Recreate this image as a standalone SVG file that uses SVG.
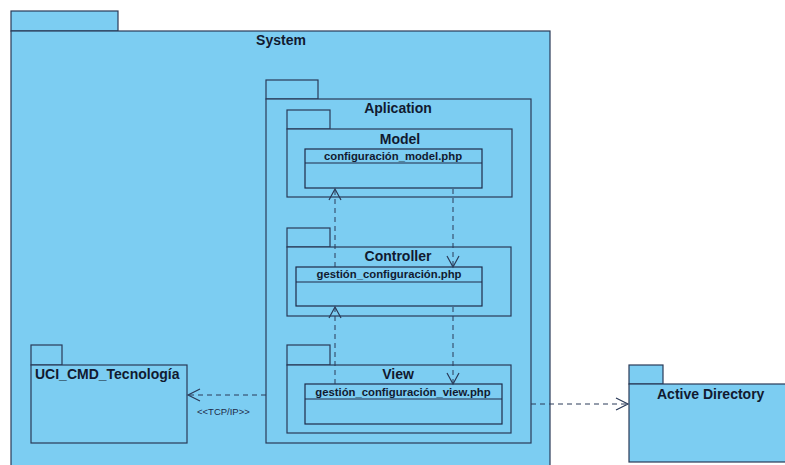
<svg xmlns="http://www.w3.org/2000/svg" width="785" height="465" viewBox="0 0 785 465">
  <style>
    .pkg { fill: #7ccdf2; stroke: #2a3a58; stroke-width: 1.2; }
    .cls { fill: #7ccdf2; stroke: #1e2a48; stroke-width: 1.2; }
    .pkgname { font-family: "Liberation Sans", Arial, sans-serif; font-weight: bold; font-size: 14px; fill: #111a30; }
    .clsname { font-family: "Liberation Sans", Arial, sans-serif; font-weight: bold; font-size: 11.3px; fill: #111a30; }
    .lbl { font-family: "Liberation Sans", Arial, sans-serif; font-size: 9.5px; fill: #1e2a48; }
    .dep { fill: none; stroke: #2a3a58; stroke-width: 1; stroke-dasharray: 5 4; }
    .head { fill: none; stroke: #2a3a58; stroke-width: 1.2; }
  </style>
  <rect x="0" y="0" width="785" height="465" fill="#ffffff"/>

  <!-- System package -->
  <g id="system">
    <rect class="pkg" x="11" y="11" width="107" height="20"/>
    <rect class="pkg" x="11" y="31" width="539" height="440"/>
    <text class="pkgname" x="281" y="45" text-anchor="middle" font-size="13">System</text>
  </g>

  <!-- Aplication package -->
  <g id="aplication">
    <rect class="pkg" x="266" y="80" width="52" height="19"/>
    <rect class="pkg" x="266" y="99" width="265" height="344"/>
    <text class="pkgname" x="398" y="113" text-anchor="middle">Aplication</text>
  </g>

  <!-- Model package -->
  <g id="model">
    <rect class="pkg" x="287" y="110" width="43" height="19"/>
    <rect class="pkg" x="287" y="129" width="225" height="68"/>
    <text class="pkgname" x="400" y="144" text-anchor="middle">Model</text>
    <g id="configuracion_model">
      <rect class="cls" x="305" y="149" width="177" height="39"/>
      <line class="cls" x1="305" y1="163" x2="482" y2="163"/>
      <text class="clsname" x="393" y="160" text-anchor="middle">configuración_model.php</text>
    </g>
  </g>

  <!-- Controller package -->
  <g id="controller">
    <rect class="pkg" x="287" y="228" width="43" height="19"/>
    <rect class="pkg" x="287" y="247" width="224" height="69"/>
    <text class="pkgname" x="398" y="261" text-anchor="middle">Controller</text>
    <g id="gestion_configuracion">
      <rect class="cls" x="296" y="267" width="186" height="39"/>
      <line class="cls" x1="296" y1="282" x2="482" y2="282"/>
      <text class="clsname" x="389" y="278" text-anchor="middle">gestión_configuración.php</text>
    </g>
  </g>

  <!-- View package -->
  <g id="view">
    <rect class="pkg" x="287" y="345" width="43" height="20"/>
    <rect class="pkg" x="287" y="365" width="224" height="68"/>
    <text class="pkgname" x="398" y="379" text-anchor="middle">View</text>
    <g id="gestion_configuracion_view">
      <rect class="cls" x="305" y="384" width="197" height="40"/>
      <line class="cls" x1="305" y1="399" x2="502" y2="399"/>
      <text class="clsname" x="403" y="396" text-anchor="middle">gestión_configuración_view.php</text>
    </g>
  </g>

  <!-- UCI_CMD_Tecnología package -->
  <g id="uci_cmd_tecnologia">
    <rect class="pkg" x="31" y="345" width="31" height="20"/>
    <rect class="pkg" x="31" y="365" width="156" height="78"/>
    <text class="pkgname" x="35" y="379">UCI_CMD_Tecnología</text>
  </g>

  <!-- Active Directory package -->
  <g id="active_directory">
    <rect class="pkg" x="629" y="365" width="34" height="19"/>
    <rect class="pkg" x="629" y="384" width="170" height="78"/>
    <text class="pkgname" x="657" y="399">Active Directory</text>
  </g>

  <!-- Dependencies -->
  <g id="connectors">
    <!-- Controller -> Model -->
    <line class="dep" x1="335" y1="267" x2="335" y2="190"/>
    <polyline class="head" points="329,200 335,189 341,200"/>
    <!-- Model -> Controller -->
    <line class="dep" x1="453" y1="189" x2="453" y2="266"/>
    <polyline class="head" points="447,256 453,267 459,256"/>
    <!-- View -> Controller -->
    <line class="dep" x1="335" y1="384" x2="335" y2="308"/>
    <polyline class="head" points="329,318 335,307 341,318"/>
    <!-- Controller -> View -->
    <line class="dep" x1="453" y1="307" x2="453" y2="383"/>
    <polyline class="head" points="447,373 453,384 459,373"/>
    <!-- Aplication -> UCI_CMD_Tecnología -->
    <line class="dep" x1="266" y1="395" x2="189" y2="395"/>
    <polyline class="head" points="200,389 188,395 200,401"/>
    <text class="lbl" x="197" y="415">&lt;&lt;TCP/IP&gt;&gt;</text>
    <!-- Aplication -> Active Directory -->
    <line class="dep" x1="531" y1="404" x2="627" y2="404"/>
    <polyline class="head" points="616,398 628,404 616,410"/>
  </g>
</svg>
